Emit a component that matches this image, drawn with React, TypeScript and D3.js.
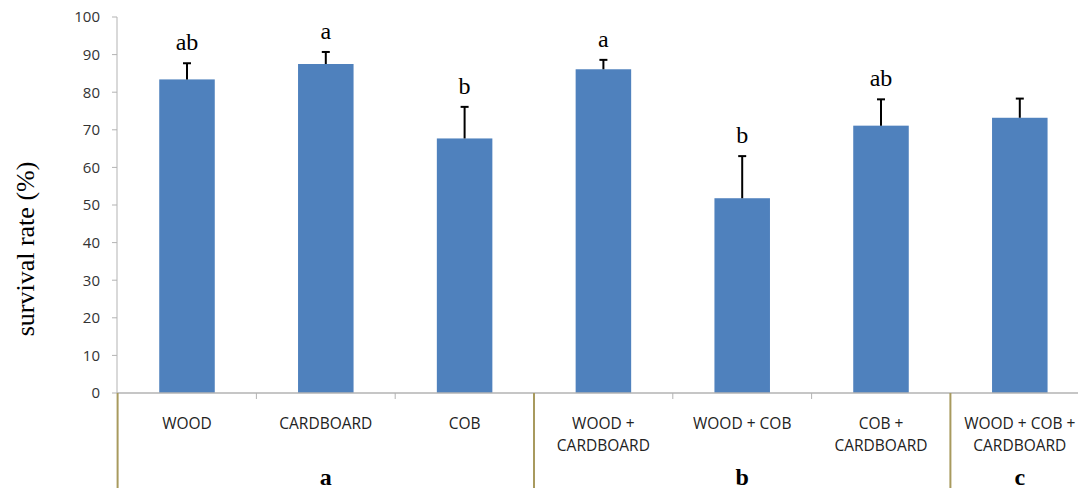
import React from "react";
import * as d3 from "d3";

const categories = [
  ["WOOD"],
  ["CARDBOARD"],
  ["COB"],
  ["WOOD +", "CARDBOARD"],
  ["WOOD + COB"],
  ["COB +", "CARDBOARD"],
  ["WOOD + COB +", "CARDBOARD"],
];
const means = [83.4, 87.5, 67.7, 86.1, 51.8, 71.1, 73.2];
const errors = [4.3, 3.2, 8.4, 2.5, 11.2, 7.0, 5.1];
const letters = ["ab", "a", "b", "a", "b", "ab", ""];
const groups = [
  { label: "a", start: 0, end: 3 },
  { label: "b", start: 3, end: 6 },
  { label: "c", start: 6, end: 7 },
];
const yTicks = [0, 10, 20, 30, 40, 50, 60, 70, 80, 90, 100];

export default function App() {
  const W = 1078;
  const H = 488;
  const left = 117.6;
  const catW = 138.8;
  const right = left + catW * categories.length;
  const top = 17;
  const bottom = 393;

  const x = d3
    .scaleBand<number>()
    .domain(d3.range(categories.length))
    .range([left, right])
    .paddingInner(0)
    .paddingOuter(0);
  const y = d3.scaleLinear().domain([0, 100]).range([bottom, top]);
  const barW = x.bandwidth() * 0.4;

  const sans = "'Open Sans', 'Liberation Sans', sans-serif";
  const serif = "'Liberation Serif', 'DejaVu Serif', serif";
  const sepColor = "#a89a5e";

  return (
    <svg
      width={W}
      height={H}
      style={{ position: "absolute", left: 0, top: 0, background: "#fff" }}
    >
      {/* y axis */}
      <line x1={117} x2={117} y1={top} y2={bottom} stroke="#b3b3b3" strokeWidth={1} />
      {yTicks.map((t) => (
        <g key={t}>
          <line x1={112} x2={117} y1={y(t)} y2={y(t)} stroke="#b3b3b3" />
          <text
            x={100}
            y={y(t)}
            dy="0.36em"
            textAnchor="end"
            fontFamily={sans}
            fontSize={15}
            fill="#333"
          >
            {t}
          </text>
        </g>
      ))}
      <text
        transform={`translate(34, 249) rotate(-90)`}
        textAnchor="middle"
        fontFamily={serif}
        fontSize={26}
        fill="#000"
      >
        survival rate (%)
      </text>

      {/* bars */}
      {means.map((m, i) => {
        const cx = (x(i) as number) + x.bandwidth() / 2;
        const errTop = y(m + errors[i]);
        return (
          <g key={i}>
            <rect
              x={cx - barW / 2}
              y={y(m)}
              width={barW}
              height={y(0) - y(m)}
              fill="#4f81bd"
            />
            <line x1={cx} x2={cx} y1={y(m)} y2={errTop} stroke="#000" strokeWidth={2} />
            <line x1={cx - 4} x2={cx + 4} y1={errTop} y2={errTop} stroke="#000" strokeWidth={2} />
            {letters[i] && (
              <text
                x={cx}
                y={errTop - 13}
                textAnchor="middle"
                fontFamily={serif}
                fontSize={24}
                fill="#000"
              >
                {letters[i]}
              </text>
            )}
          </g>
        );
      })}

      {/* x axis */}
      <line x1={117} x2={right} y1={bottom} y2={bottom} stroke="#b3b3b3" strokeWidth={1.5} />
      {d3.range(1, categories.length).map((i) => {
        const isSep = groups.some((g) => g.start === i);
        return isSep ? null : (
          <line
            key={i}
            x1={x(i) as number}
            x2={x(i) as number}
            y1={bottom}
            y2={bottom + 6}
            stroke="#b3b3b3"
          />
        );
      })}
      {categories.map((lines, i) => {
        const cx = (x(i) as number) + x.bandwidth() / 2;
        return (
          <text key={i} textAnchor="middle" fontFamily={sans} fontSize={15.5} fill="#222">
            {lines.map((l, j) => (
              <tspan key={j} x={cx} y={429 + j * 22}>
                {l}
              </tspan>
            ))}
          </text>
        );
      })}

      {/* group separators and labels */}
      {groups.map((g) => {
        const x0 = x(g.start) as number;
        const x1 = g.end < categories.length ? (x(g.end) as number) : right;
        return (
          <g key={g.label}>
            <line x1={x0} x2={x0} y1={bottom} y2={H} stroke={sepColor} strokeWidth={2} />
            <text
              x={(x0 + x1) / 2}
              y={485}
              textAnchor="middle"
              fontFamily={serif}
              fontWeight="bold"
              fontSize={24}
              fill="#000"
            >
              {g.label}
            </text>
          </g>
        );
      })}
      <line x1={right} x2={right} y1={bottom} y2={H} stroke={sepColor} strokeWidth={2} />
    </svg>
  );
}
